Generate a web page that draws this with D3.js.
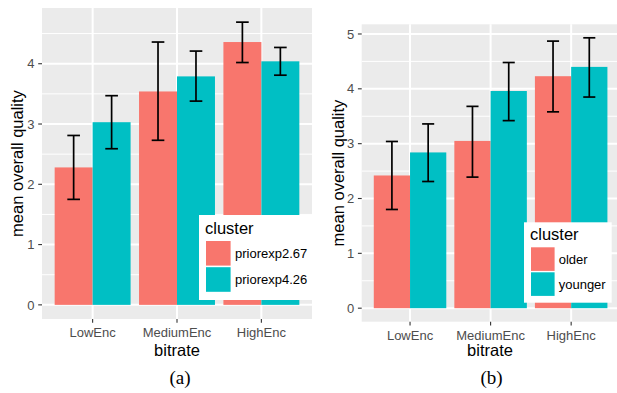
<!DOCTYPE html>
<html><head><meta charset="utf-8">
<script src="https://cdn.jsdelivr.net/npm/d3@7"></script>
<style>body{margin:0;background:#fff}svg{display:block}</style>
</head><body>
<svg id="chart" width="617" height="393"></svg>
<script>
// ---- data ----
const categories = ["LowEnc", "MediumEnc", "HighEnc"];
// panel (a)
const clustersA = ["priorexp2.67", "priorexp4.26"];
const meanA1 = [2.28, 3.54, 4.36];
const lowA1  = [1.75, 2.73, 4.02];
const highA1 = [2.81, 4.36, 4.69];
const meanA2 = [3.03, 3.79, 4.04];
const lowA2  = [2.59, 3.38, 3.81];
const highA2 = [3.47, 4.21, 4.27];
const yTicksA = [0, 1, 2, 3, 4];
// panel (b)
const clustersB = ["older", "younger"];
const meanB1 = [2.42, 3.05, 4.23];
const lowB1  = [1.80, 2.39, 3.58];
const highB1 = [3.04, 3.68, 4.87];
const meanB2 = [2.84, 3.96, 4.40];
const lowB2  = [2.31, 3.42, 3.85];
const highB2 = [3.36, 4.48, 4.93];
const yTicksB = [0, 1, 2, 3, 4, 5];
const colors = ["#F8766D", "#00BFC4"];
const xTitle = "bitrate";
const yTitle = "mean overall quality";

const svg = d3.select("#chart");

function panel(cfg) {
  const g = svg.append("g");
  const maxV = d3.max(cfg.series.flatMap(s => s.high));
  const y = d3.scaleLinear().domain([-0.05 * maxV, 1.05 * maxV]).range([cfg.bottom, cfg.top]);
  const xc = d3.scaleLinear().domain([0.4, categories.length + 0.6]).range([cfg.left, cfg.right]);
  const xPos = c => xc(categories.indexOf(c) + 1);

  // background
  g.append("rect").attr("x", cfg.left).attr("y", cfg.top)
    .attr("width", cfg.right - cfg.left).attr("height", cfg.bottom - cfg.top).attr("fill", "#EBEBEB");
  // minor grid
  const minor = cfg.ticks.map(t => t + 0.5).filter(t => y(t) > cfg.top);
  g.selectAll(".mn").data(minor).join("line")
    .attr("x1", cfg.left).attr("x2", cfg.right).attr("y1", d => y(d)).attr("y2", d => y(d))
    .attr("stroke", "#fff").attr("stroke-width", 1);
  // major grid
  g.selectAll(".mj").data(cfg.ticks).join("line")
    .attr("x1", cfg.left).attr("x2", cfg.right).attr("y1", d => y(d)).attr("y2", d => y(d))
    .attr("stroke", "#fff").attr("stroke-width", 2);
  g.selectAll(".mx").data(categories).join("line")
    .attr("x1", d => xPos(d)).attr("x2", d => xPos(d)).attr("y1", cfg.top).attr("y2", cfg.bottom)
    .attr("stroke", "#fff").attr("stroke-width", 2);

  const bw = 0.45;
  const unit = xc(1) - xc(0);
  cfg.series.forEach((s, si) => {
    const rows = categories.map((c, i) => ({c, m: s.mean[i], lo: s.low[i], hi: s.high[i]}));
    const off = (si - 1) * bw; // bar starts at center + off
    g.selectAll(".bar" + si).data(rows).join("rect")
      .attr("x", d => xPos(d.c) + off * unit)
      .attr("width", bw * unit)
      .attr("y", d => y(d.m))
      .attr("height", d => y(0) - y(d.m))
      .attr("fill", colors[si]);
  });
  // error bars
  cfg.series.forEach((s, si) => {
    const rows = categories.map((c, i) => ({c, lo: s.low[i], hi: s.high[i]}));
    const cx = d => xPos(d.c) + ((si - 1) * bw + bw / 2) * unit;
    const hw = 0.075 * unit;
    const eg = g.append("g").attr("stroke", "#000").attr("stroke-width", 1.7).attr("fill", "none");
    eg.selectAll(".v").data(rows).join("line")
      .attr("x1", cx).attr("x2", cx).attr("y1", d => y(d.lo)).attr("y2", d => y(d.hi));
    eg.selectAll(".t").data(rows).join("line")
      .attr("x1", d => cx(d) - hw).attr("x2", d => cx(d) + hw).attr("y1", d => y(d.hi)).attr("y2", d => y(d.hi));
    eg.selectAll(".b").data(rows).join("line")
      .attr("x1", d => cx(d) - hw).attr("x2", d => cx(d) + hw).attr("y1", d => y(d.lo)).attr("y2", d => y(d.lo));
  });

  // y axis ticks
  g.selectAll(".yt").data(cfg.ticks).join("line")
    .attr("x1", cfg.left - 3.8).attr("x2", cfg.left).attr("y1", d => y(d)).attr("y2", d => y(d))
    .attr("stroke", "#333").attr("stroke-width", 1.1);
  g.selectAll(".yl").data(cfg.ticks).join("text")
    .attr("x", cfg.left - 7.5).attr("y", d => y(d)).attr("dy", "0.36em")
    .attr("text-anchor", "end").attr("font-family", "Liberation Sans, Arial, sans-serif")
    .attr("font-size", 13).attr("fill", "#4D4D4D").text(d => d);
  // x axis ticks
  g.selectAll(".xt").data(categories).join("line")
    .attr("x1", d => xPos(d)).attr("x2", d => xPos(d)).attr("y1", cfg.bottom).attr("y2", cfg.bottom + 3.8)
    .attr("stroke", "#333").attr("stroke-width", 1.1);
  g.selectAll(".xl").data(categories).join("text")
    .attr("x", d => xPos(d)).attr("y", cfg.bottom + 18)
    .attr("text-anchor", "middle").attr("font-family", "Liberation Sans, Arial, sans-serif")
    .attr("font-size", 13).attr("fill", "#4D4D4D").text(d => d);
  // titles
  const mid = (cfg.left + cfg.right) / 2;
  g.append("text").attr("x", cfg.xTitleX).attr("y", 356)
    .attr("text-anchor", "middle").attr("font-family", "Liberation Sans, Arial, sans-serif")
    .attr("font-size", 16.5).attr("fill", "#000").text(xTitle);
  g.append("text")
    .attr("transform", `translate(${cfg.yTitleX},${(cfg.top + cfg.bottom) / 2}) rotate(-90)`)
    .attr("text-anchor", "middle").attr("font-family", "Liberation Sans, Arial, sans-serif")
    .attr("font-size", 16.5).attr("fill", "#000").text(yTitle);
  g.append("text").attr("x", cfg.captionX).attr("y", 384)
    .attr("text-anchor", "middle").attr("font-family", "Liberation Serif, Times New Roman, serif")
    .attr("font-size", 19).attr("fill", "#000").text(cfg.caption);

  // legend
  const L = cfg.legend;
  const lg = g.append("g");
  lg.append("rect").attr("x", L.x0).attr("y", L.y0).attr("width", L.x1 - L.x0).attr("height", L.y1 - L.y0).attr("fill", "#fff");
  lg.append("text").attr("x", L.titleX).attr("y", L.titleY)
    .attr("font-family", "Liberation Sans, Arial, sans-serif").attr("font-size", 16.5).attr("fill", "#000").text("cluster");
  cfg.clusters.forEach((c, i) => {
    const ky = L.keyY + i * L.keyStep;
    lg.append("rect").attr("x", L.keyX).attr("y", ky).attr("width", L.keySize).attr("height", L.keySize).attr("fill", colors[i]);
    lg.append("text").attr("x", L.labelX).attr("y", ky + L.keySize / 2).attr("dy", "0.36em")
      .attr("font-family", "Liberation Sans, Arial, sans-serif").attr("font-size", 13).attr("fill", "#000").text(c);
  });
}

panel({
  left: 42, right: 312, top: 8, bottom: 319, ticks: yTicksA, clusters: clustersA,
  series: [{mean: meanA1, low: lowA1, high: highA1}, {mean: meanA2, low: lowA2, high: highA2}],
  xTitleX: 177, yTitleX: 23, captionX: 180, caption: "(a)",
  legend: {x0: 199, x1: 316, y0: 215, y1: 300, titleX: 205, titleY: 234,
           keyX: 206, keyY: 241, keySize: 24.6, keyStep: 26.2, labelX: 235}
});
panel({
  left: 361.7, right: 619.5, top: 24.3, bottom: 321.7, ticks: yTicksB, clusters: clustersB,
  series: [{mean: meanB1, low: lowB1, high: highB1}, {mean: meanB2, low: lowB2, high: highB2}],
  xTitleX: 490, yTitleX: 344, captionX: 491.5, caption: "(b)",
  legend: {x0: 524, x1: 611.7, y0: 222.3, y1: 302.7, titleX: 530, titleY: 240,
           keyX: 531, keyY: 247.3, keySize: 23.6, keyStep: 25, labelX: 558.7}
});
</script>
</body></html>
